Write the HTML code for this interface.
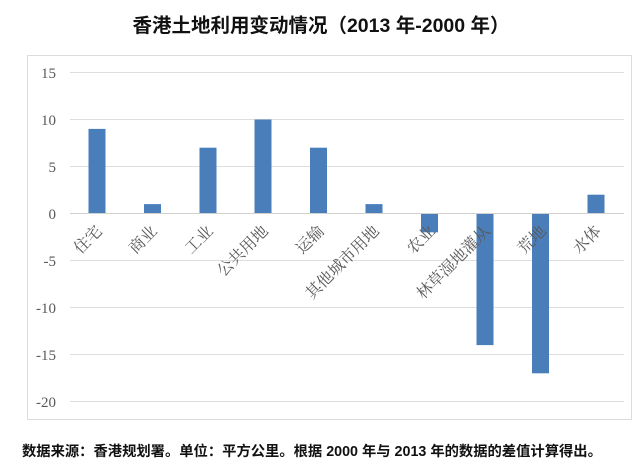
<!DOCTYPE html>
<html><head><meta charset="utf-8"><style>body{margin:0;background:#fff;}</style></head>
<body>
<svg width="642" height="468" xmlns="http://www.w3.org/2000/svg">
<rect width="642" height="468" fill="#fff"/>
<text x="321" y="32" text-anchor="middle" font-family="Liberation Sans, Noto Sans CJK SC, sans-serif" font-weight="bold" font-size="19.5" fill="#111">香港土地利用变动情况（2013 年-2000 年）</text>
<rect x="27.5" y="55.5" width="604" height="364" fill="#fff" stroke="#dcdcdc"/>
<g stroke="#dedede" stroke-width="1">
<line x1="70" x2="624" y1="72.5" y2="72.5"/>
<line x1="70" x2="624" y1="119.5" y2="119.5"/>
<line x1="70" x2="624" y1="166.5" y2="166.5"/>
<line x1="70" x2="624" y1="260.5" y2="260.5"/>
<line x1="70" x2="624" y1="307.5" y2="307.5"/>
<line x1="70" x2="624" y1="354.5" y2="354.5"/>
<line x1="70" x2="624" y1="401.5" y2="401.5"/>
</g>
<g font-family="Liberation Serif, Noto Serif CJK SC, serif" font-size="15" fill="#595959" text-anchor="end">
<text x="56" y="78">15</text><text x="56" y="125">10</text><text x="56" y="172">5</text><text x="56" y="219">0</text>
<text x="56" y="266">-5</text><text x="56" y="313">-10</text><text x="56" y="360">-15</text><text x="56" y="407">-20</text>
</g>
<g fill="#4a7ebb">
<rect x="88.5" y="128.9" width="17" height="84.6"/>
<rect x="144" y="204.1" width="17" height="9.4"/>
<rect x="199.5" y="147.7" width="17" height="65.8"/>
<rect x="254.5" y="119.5" width="17" height="94"/>
<rect x="310" y="147.7" width="17" height="65.8"/>
<rect x="365.5" y="204.1" width="17" height="9.4"/>
<rect x="421" y="213.5" width="17" height="18.8"/>
<rect x="476.5" y="213.5" width="17" height="131.6"/>
<rect x="532" y="213.5" width="17" height="159.8"/>
<rect x="587.5" y="194.7" width="17" height="18.8"/>
</g>
<line x1="70" x2="624" y1="213.5" y2="213.5" stroke="#d0d0d0"/>
<g font-family="Liberation Serif, Noto Serif CJK SC, serif" font-size="16" fill="#595959" text-anchor="end">
<text transform="translate(103,232) rotate(-45)">住宅</text>
<text transform="translate(158,232) rotate(-45)">商业</text>
<text transform="translate(214,232) rotate(-45)">工业</text>
<text transform="translate(269,232) rotate(-45)">公共用地</text>
<text transform="translate(325,232) rotate(-45)">运输</text>
<text transform="translate(380,232) rotate(-45)">其他城市用地</text>
<text transform="translate(436,232) rotate(-45)">农业</text>
<text transform="translate(491,232) rotate(-45)">林草湿地灌从</text>
<text transform="translate(547,232) rotate(-45)">荒地</text>
<text transform="translate(602,232) rotate(-45)">水体</text>
</g>
<text x="22" y="456" font-family="Liberation Sans, Noto Sans CJK SC, sans-serif" font-weight="bold" font-size="14.3" fill="#111">数据来源：香港规划署。单位：平方公里。根据 2000 年与 2013 年的数据的差值计算得出。</text>
</svg>
</body></html>
